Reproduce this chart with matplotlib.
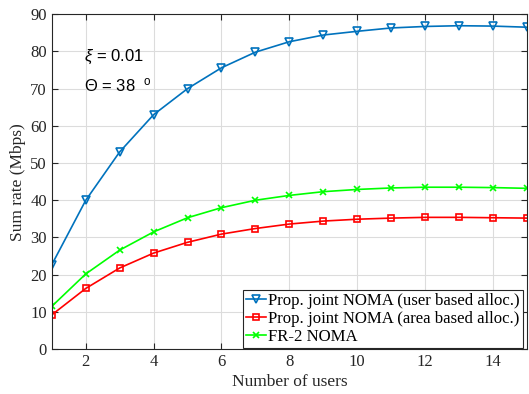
import numpy as np
import matplotlib.pyplot as plt

users = np.arange(1, 16)
user_based = [22.7, 40.0, 53.0, 63.0, 70.0, 75.6, 79.8, 82.6, 84.4, 85.4, 86.3, 86.7, 86.9, 86.8, 86.5]
area_based = [9.2, 16.3, 21.8, 25.8, 28.7, 30.9, 32.4, 33.6, 34.4, 34.9, 35.2, 35.4, 35.4, 35.3, 35.2]
fr2_noma = [11.5, 20.2, 26.6, 31.5, 35.3, 38.0, 40.0, 41.3, 42.3, 42.9, 43.3, 43.5, 43.5, 43.4, 43.2]

plt.rcParams['font.family'] = ['Liberation Serif', 'DejaVu Serif']
plt.rcParams['mathtext.fontset'] = 'custom'
plt.rcParams['mathtext.rm'] = 'Liberation Sans'
plt.rcParams['mathtext.it'] = 'Liberation Sans:italic'

fig = plt.figure(figsize=(5.29, 3.94), dpi=100)
ax = fig.add_axes([0.098, 0.114, 0.898, 0.85])

ax.plot(users, user_based, color='#0072BD', marker='v', mfc='none', ms=5.5, mew=1.2, lw=1.2,
        label='Prop. joint NOMA (user based alloc.)')
ax.plot(users, area_based, color='#FF0000', marker='s', mfc='none', ms=4.2, mew=1.2, lw=1.2,
        label='Prop. joint NOMA (area based alloc.)')
ax.plot(users, fr2_noma, color='#00FF00', marker='x', ms=4, mew=1.2, lw=1.2,
        label='FR-2 NOMA')

ax.set_xlim(1, 15)
ax.set_ylim(0, 90)
ax.set_xticks([2, 4, 6, 8, 10, 12, 14])
ax.set_yticks(np.arange(0, 91, 10))
ax.grid(True, color='#DCDCDC', lw=0.8)
ax.set_axisbelow(True)
ax.tick_params(direction='in', top=True, right=True, labelsize=12, colors='#262626', length=4)
for s in ax.spines.values():
    s.set_color('#262626')
    s.set_linewidth(0.8)

ax.set_xlabel('Number of users', fontsize=12.5, color='#262626', labelpad=3)
ax.set_ylabel('Sum rate (Mbps)', fontsize=12.5, color='#262626', labelpad=3)

ax.text(1.95, 78.4, r'$\xi$ = 0.01', fontsize=12, family=['Liberation Sans'], va='center')
ax.text(1.95, 70.9, r'$\Theta$ = 38  $^{\rm o}$', fontsize=12, family=['Liberation Sans'], va='center')

leg = ax.legend(loc='lower right', bbox_to_anchor=(0.992, 0.003), borderaxespad=0,
                fontsize=12.1, handlelength=1.2, handletextpad=0.1,
                borderpad=0.2, labelspacing=0.1, fancybox=False,
                framealpha=1, edgecolor='#262626')
leg.get_frame().set_linewidth(0.8)

fig.savefig('out.png', dpi=100)
